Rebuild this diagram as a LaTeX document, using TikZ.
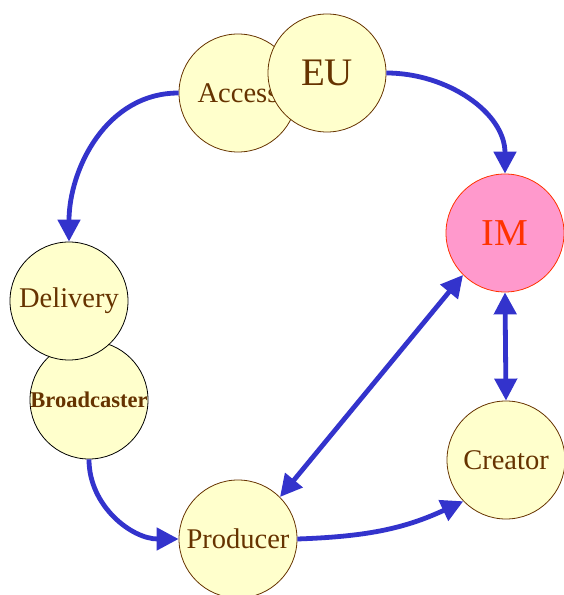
\documentclass[tikz,border=0pt]{standalone}
\usepackage{fontspec}
\setmainfont{Liberation Serif}
\usetikzlibrary{arrows.meta}
\definecolor{edgeblue}{HTML}{3333CC}
\definecolor{cream}{HTML}{FFFFCC}
\definecolor{brownline}{HTML}{663300}
\definecolor{pinkfill}{HTML}{FF99CC}
\definecolor{redline}{HTML}{FF3300}
\begin{document}
\begin{tikzpicture}[x=1pt,y=1pt,
  actor/.style={circle, minimum size=118pt, inner sep=0pt, fill=cream,
    draw=brownline, line width=0.8pt, text=brownline,
    font=\fontsize{28.5}{30}\selectfont},
  darkactor/.style={actor, draw=black},
  bigactor/.style={actor, font=\fontsize{39}{40}\selectfont},
  hub/.style={actor, fill=pinkfill, draw=redline, text=redline,
    font=\fontsize{38}{40}\selectfont},
  link/.style={draw=edgeblue, line width=4.8pt,
    -{Triangle[length=22pt,width=22pt]}},
  duplink/.style={link, {Triangle[length=22pt,width=22pt]}-{Triangle[length=22pt,width=22pt]}}
]
\useasboundingbox (0,0) rectangle (564,595);

% circles, back to front
\node[actor]     (access)      at (238,502) {Access};
\node[bigactor]  (eu)          at (327,522) {EU};
\node[hub]       (im)          at (505,362) {IM};
\node[darkactor, font=\bfseries\fontsize{22.5}{24}\selectfont]
                 (broadcaster) at (89,195)  {Broadcaster};
\node[darkactor] (delivery)    at (69,294)  {Delivery};
\node[actor]     (creator)     at (506,135) {Creator};
\node[actor]     (producer)    at (238,56)  {Producer};

% flows between the actors
\draw[link] (access.west) to[out=180, in=90] (delivery.north);
\draw[link] (eu.east) to[out=0, in=90] (im.north);
\draw[link] (broadcaster.south) to[out=-90, in=180] (producer.west);
\draw[link] (producer.east) to[out=2, in=205] (creator.224);
\draw[duplink] (im.225) -- (producer.45);
\draw[duplink] (im.south) -- (creator.north);
\end{tikzpicture}
\end{document}
